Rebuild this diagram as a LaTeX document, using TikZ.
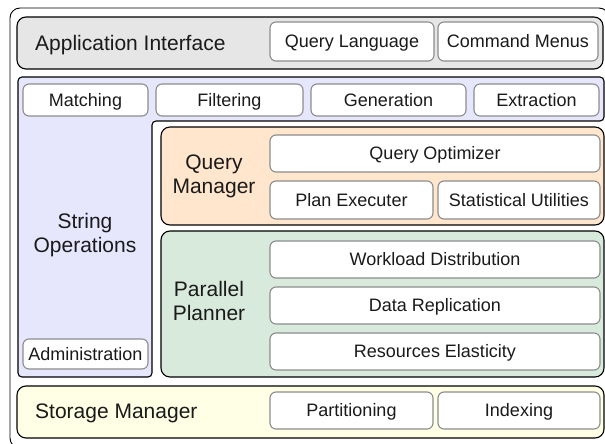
\documentclass[tikz,border=0pt]{standalone}
\usepackage{fontspec}
\setmainfont{Liberation Sans}
\definecolor{appgray}{HTML}{E6E6E6}
\definecolor{lav}{HTML}{E6E6FD}
\definecolor{peach}{HTML}{FFE6CC}
\definecolor{mint}{HTML}{D8EADB}
\definecolor{cream}{HTML}{FFFFE6}
\definecolor{boxline}{HTML}{8C8C8C}
\definecolor{ink}{HTML}{1A1A1A}
\tikzset{
  ibox/.style={draw=boxline, line width=1.1pt, fill=white, rounded corners=6pt,
    inner sep=0pt, outer sep=0pt, text=ink, font=\fontsize{18}{20}\selectfont,
    text height=12.9pt, text depth=0pt},
  secbox/.style={draw=black, line width=1.1pt, rounded corners=9pt, inner sep=0pt, outer sep=0pt},
  seclabel/.style={text=ink, font=\fontsize{21}{24}\selectfont, align=center, inner sep=0pt},
  capfix/.style={text height=15pt, text depth=0pt}
}
\begin{document}
\begin{tikzpicture}[x=1pt,y=-1pt]
\useasboundingbox (0,0) rectangle (605,444);
% outer frame
\draw[black, line width=0.9pt, rounded corners=10pt] (10,8) rectangle (609,448);
% Application interface
\node[secbox, fill=appgray, minimum width=586pt, minimum height=52pt] (app) at (310,43) {};
\node[seclabel, capfix, anchor=west] (applbl) at (35,43) {Application Interface};
\node[ibox, minimum width=164pt, minimum height=39pt] (ql) at (352,41.5) {Query Language};
\node[ibox, minimum width=160pt, minimum height=39pt] (cm) at (518,41.5) {Command Menus};
% String operations L-shape
\draw[black, line width=1.1pt, fill=lav, rounded corners=4pt]
  (18,77) -- (604,77) -- (604,121) -- (152,121) -- (152,377) -- (18,377) -- cycle;
\node[seclabel] (solbl) at (85,235) {String\\Operations};
\node[ibox, minimum width=125pt, minimum height=32pt] (match) at (85.5,100) {Matching};
\node[ibox, minimum width=147pt, minimum height=32pt] (filt) at (229.5,100) {Filtering};
\node[ibox, minimum width=155pt, minimum height=32pt] (gen) at (388.5,100) {Generation};
\node[ibox, minimum width=125pt, minimum height=32pt] (extr) at (536.5,100) {Extraction};
\node[ibox, minimum width=125pt, minimum height=30pt] (adm) at (85.5,354) {Administration};
% Query manager
\node[secbox, fill=peach, minimum width=443pt, minimum height=98pt] (qm) at (382.5,176) {};
\node[seclabel] (qmlbl) at (214,176) {Query\\Manager};
\node[ibox, minimum width=330pt, minimum height=37pt] (qo) at (435,153.5) {Query Optimizer};
\node[ibox, minimum width=163pt, minimum height=38pt] (pe) at (351.5,200) {Plan Executer};
\node[ibox, minimum width=162pt, minimum height=38pt] (su) at (519,200) {Statistical Utilities};
% Parallel planner
\node[secbox, fill=mint, minimum width=443pt, minimum height=146pt] (pp) at (382.5,304) {};
\node[seclabel] (pplbl) at (209,301) {Parallel\\Planner};
\node[ibox, minimum width=330pt, minimum height=37pt] (wd) at (435,259.5) {Workload Distribution};
\node[ibox, minimum width=330pt, minimum height=37pt] (dr) at (435,305.5) {Data Replication};
\node[ibox, minimum width=330pt, minimum height=37pt] (re) at (435,351.5) {Resources Elasticity};
% Storage manager
\node[secbox, fill=cream, minimum width=587pt, minimum height=52pt] (sm) at (310.5,412) {};
\node[seclabel, capfix, anchor=west] (smlbl) at (35,411) {Storage Manager};
\node[ibox, minimum width=163pt, minimum height=37pt] (part) at (351.5,410.5) {Partitioning};
\node[ibox, minimum width=162pt, minimum height=37pt] (idx) at (519,410.5) {Indexing};
\end{tikzpicture}
\end{document}
